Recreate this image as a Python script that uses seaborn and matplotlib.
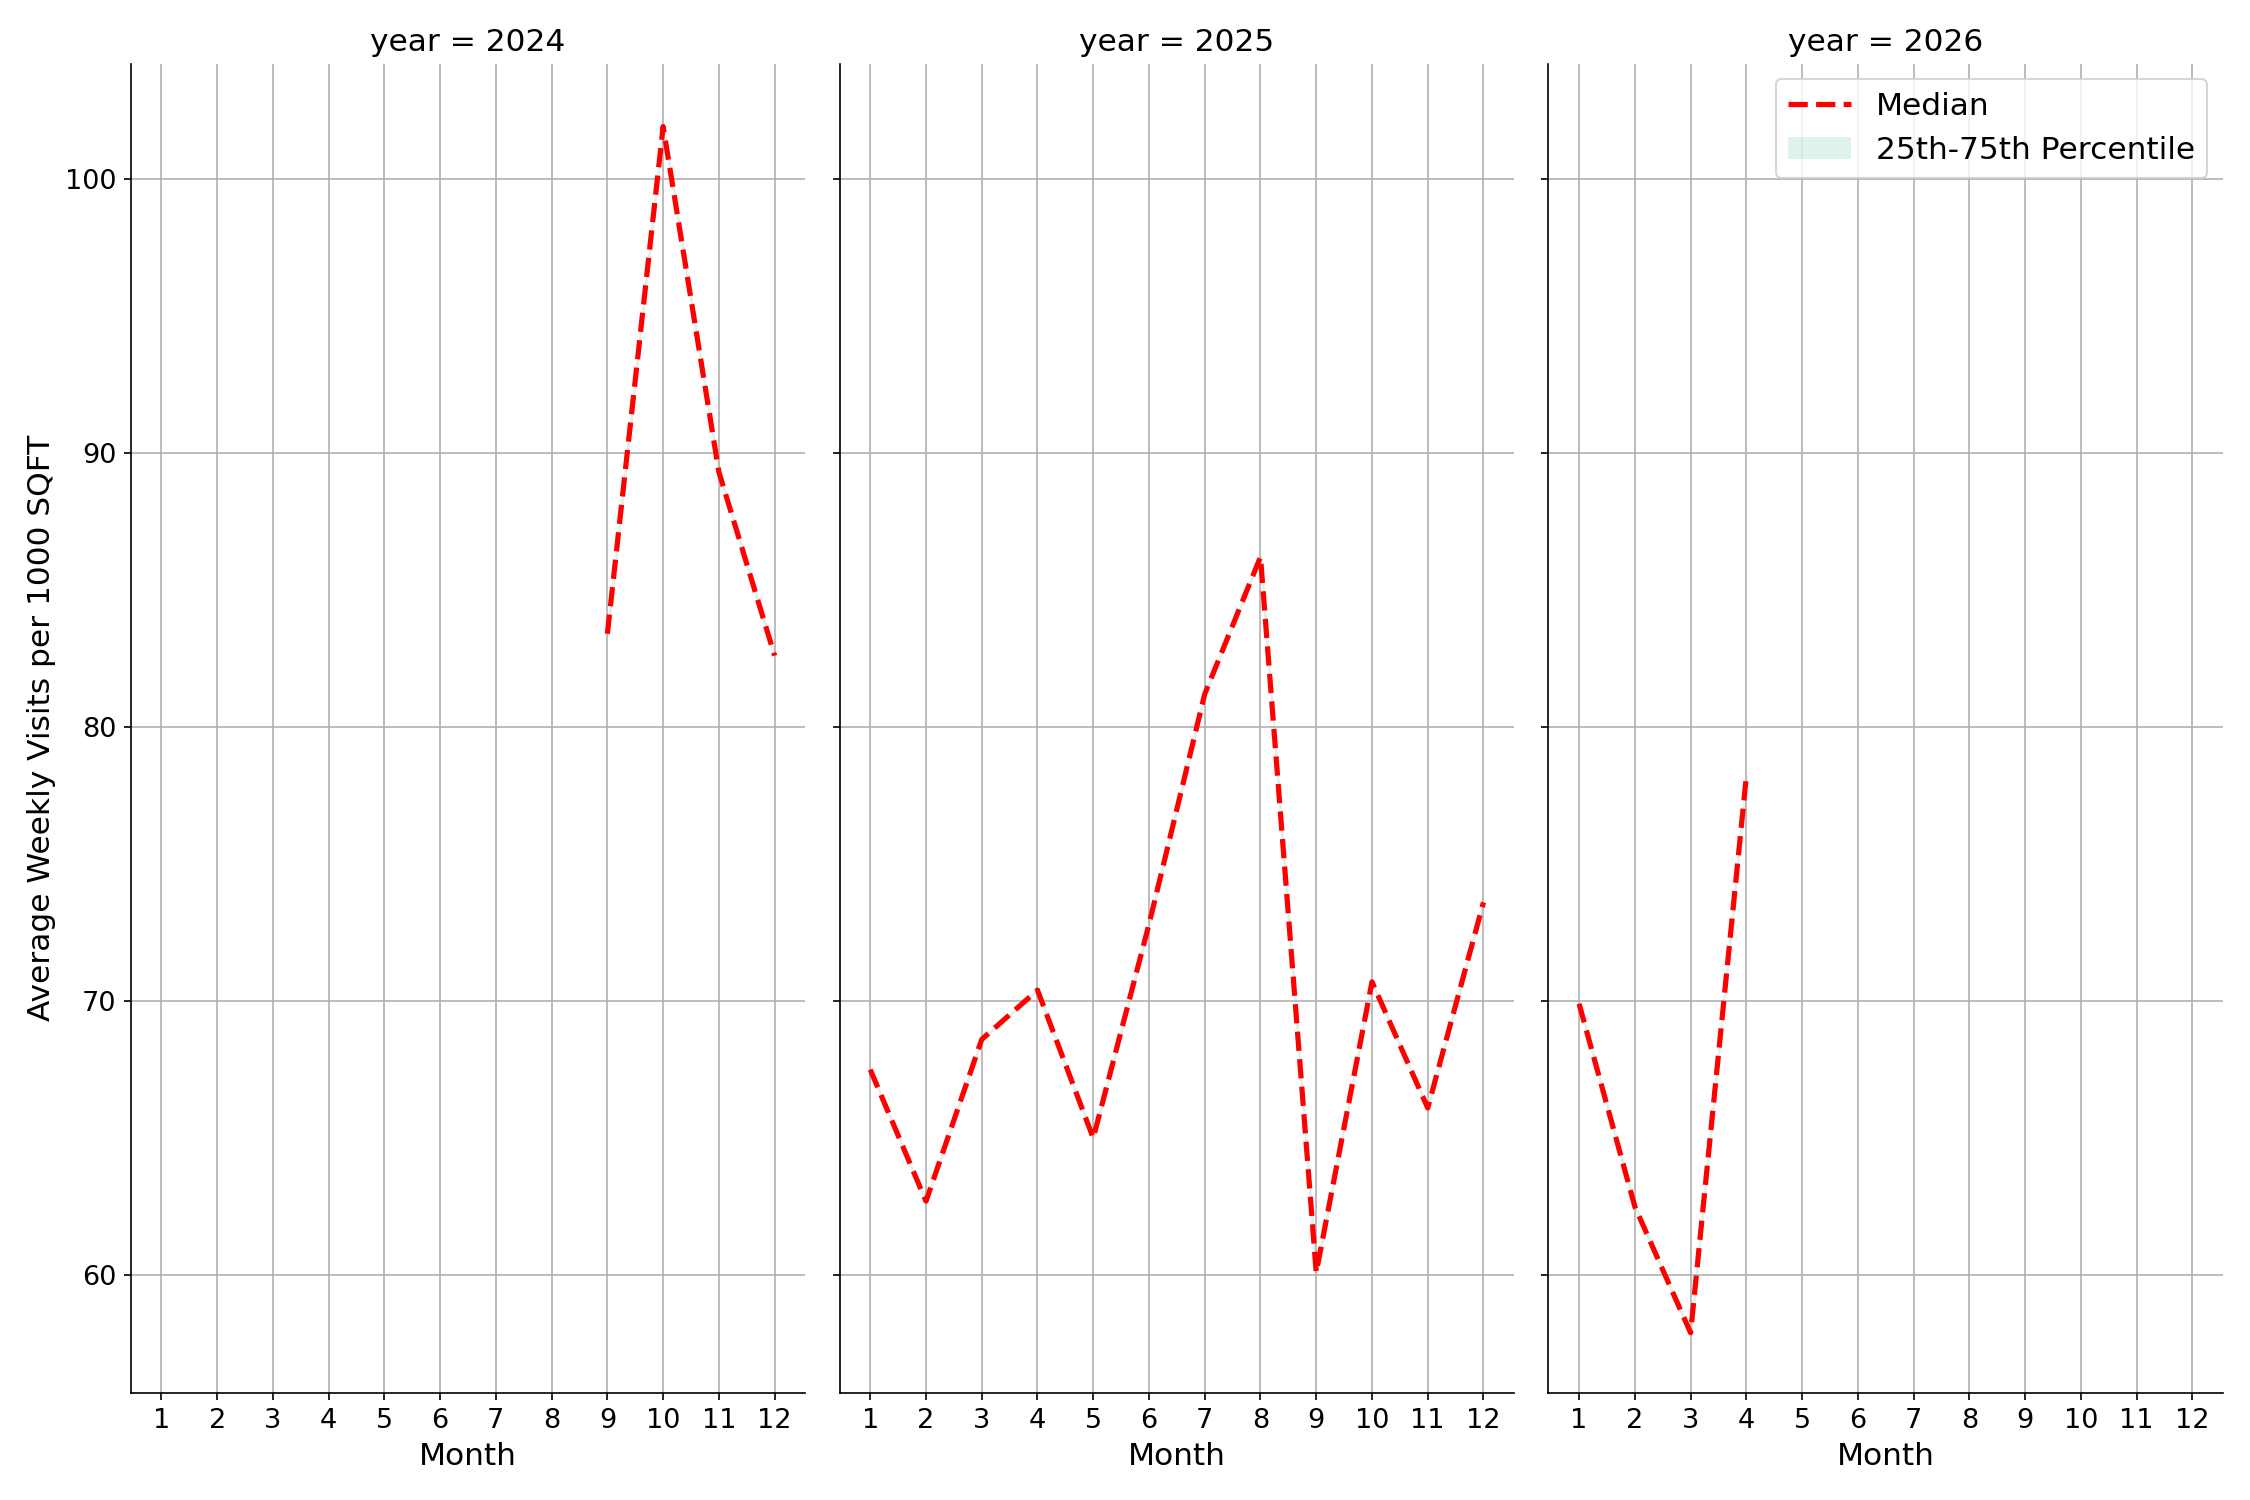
import pandas as pd
import numpy as np
import matplotlib
matplotlib.use("Agg")
import matplotlib.pyplot as plt
import seaborn as sns
from matplotlib.patches import Patch
from matplotlib.lines import Line2D

# %% data
years = [2024] * 4 + [2025] * 12 + [2026] * 4
months = [9, 10, 11, 12] + list(range(1, 13)) + [1, 2, 3, 4]
median_visits = [83.4, 101.9, 89.3, 82.6,
                 67.5, 62.7, 68.6, 70.4, 65.0, 72.8, 81.2, 86.2, 60.1, 70.7, 66.1, 73.6,
                 69.9, 62.5, 57.9, 78.2]

df = pd.DataFrame({"year": years, "month": months, "median": median_visits})


# %% plot
plt.rcParams["font.size"] = 12

g = sns.FacetGrid(df, col="year", sharey=True, height=10, aspect=0.5)


def draw(data, **kws):
    ax = plt.gca()
    sns.lineplot(data=data, x="month", y="median", ax=ax, color="red",
                 linestyle="--", linewidth=2.5)
    ax.fill_between(data["month"], data["median"], data["median"],
                    color="#66c2a5", alpha=0.2)


g.map_dataframe(draw)
g.set_titles("year = {col_name}", size=15)
g.set_axis_labels("Month", "Average Weekly Visits per 1000 SQFT", fontsize=15)

for ax in g.axes.flat:
    ax.set_xticks(range(1, 13))
    ax.set_xlim(0.45, 12.55)
    ax.set_ylim(55.7, 104.2)
    ax.grid(True, color="#b0b0b0", linewidth=0.8)
    ax.tick_params(labelsize=13)

handles = [Line2D([0], [0], color="red", linestyle="--", linewidth=2.5),
           Patch(facecolor="#66c2a5", alpha=0.2)]
g.axes.flat[-1].legend(handles, ["Median", "25th-75th Percentile"],
                       loc="upper right", fontsize=15)

g.figure.set_size_inches(15, 10)
g.figure.tight_layout()
g.figure.savefig("out.png", dpi=150)
